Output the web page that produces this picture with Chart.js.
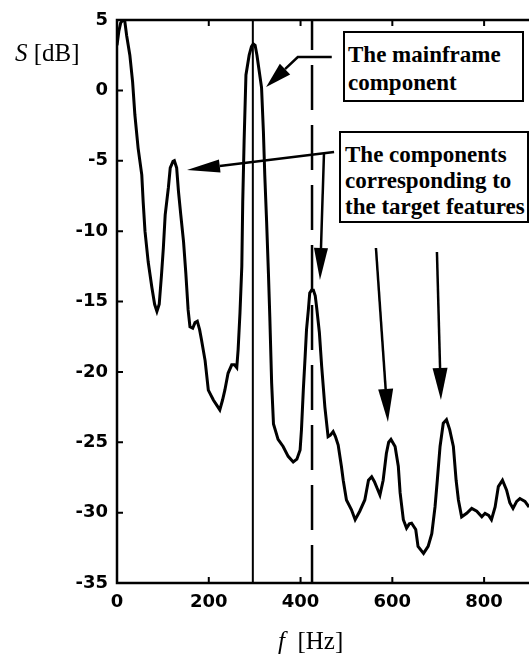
<!DOCTYPE html>
<html>
<head>
<meta charset="utf-8">
<script src="https://cdn.jsdelivr.net/npm/chart.js@4/dist/chart.umd.min.js"></script>
<style>
  html, body { margin: 0; padding: 0; background: #fff; overflow: hidden; }
  #wrap { position: relative; width: 529px; height: 655px; overflow: hidden; }
  #plot { position: absolute; left: 0; top: 0; }
  .note {
    position: absolute; box-sizing: border-box; border: 2px solid #000; background: #fff;
    font: bold 23px "Liberation Serif", "Times New Roman", serif; color: #000; white-space: nowrap;
  }
  .axis-title { position: absolute; font: 25px "Liberation Serif", "Times New Roman", serif; color: #000; white-space: nowrap; line-height: 26px; }
  .axis-title i { font-style: italic; }
</style>
</head>
<body>
<div id="wrap">
  <canvas id="plot" width="540" height="655"></canvas>
  <div class="axis-title" style="left:15px; top:40px;"><i>S</i> [dB]</div>
  <div class="axis-title" style="left:278px; top:628px;"><i>f</i>&nbsp;&nbsp;[Hz]</div>
  <div class="note" style="left:343px; top:31px; width:181px; height:71px; line-height:28px; padding:8px 0 0 3px;">The mainframe<br>component</div>
  <div class="note" style="left:339px; top:131px; width:190px; height:92px; line-height:26px; padding:9px 0 0 4px;">The components<br>corresponding to<br>the target features</div>
</div>
<script>
// Spectrum S(f) in dB
const frequencyHz = [
  0, 4, 8, 13, 17, 21, 28, 34, 39, 46, 54, 57, 61, 68, 76, 82, 87, 92, 97, 101,
  105, 112, 116, 122, 125, 130, 134, 139, 145, 150, 155, 159, 165, 170, 175, 180, 184, 192, 199, 210,
  218, 224, 230, 235, 242, 250, 256, 261, 264, 268, 272, 274, 277, 281, 288, 293, 297, 301, 305, 308,
  315, 319, 322, 326, 330, 333, 337, 341, 351, 362, 373, 384, 392, 399, 402, 406, 410, 413, 417, 420,
  424, 428, 432, 435, 441, 446, 453, 460, 465, 471, 476, 482, 489, 493, 500, 511, 519, 529, 540, 548,
  555, 561, 566, 573, 580, 587, 592, 597, 606, 613, 617, 624, 631, 637, 642, 651, 656, 668, 678, 686,
  693, 698, 704, 711, 718, 725, 733, 739, 744, 751, 762, 773, 784, 795, 802, 810, 816, 824, 831, 840,
  849, 856, 863, 871, 878, 889, 898
];
const levelDb = [
  3.2, 4.2, 4.8, 5.0, 4.9, 3.9, 2.5, 0.6, -1.75, -4.1, -6.0, -7.9, -10.0, -12.2, -14.0, -15.2, -15.7, -15.2, -13.1, -11.2,
  -8.85, -6.9, -5.5, -5.05, -5.0, -5.5, -7.2, -8.85, -10.75, -13.0, -15.6, -16.8, -16.9, -16.5, -16.4, -17.0, -17.7, -19.2, -21.3, -22.0,
  -22.4, -22.7, -22.0, -21.3, -20.1, -19.5, -19.5, -19.7, -18.4, -15.8, -12.5, -7.9, -3.6, 1.1, 2.5, 3.1, 3.3, 3.2, 2.5, 1.8,
  0.2, -2.9, -6.0, -9.3, -13.0, -16.1, -20.8, -23.7, -24.8, -25.3, -26.0, -26.4, -26.2, -25.55, -24.1, -21.3, -18.9, -17.0, -15.6, -14.4,
  -14.2, -14.2, -14.6, -15.4, -17.2, -19.6, -22.5, -24.6, -24.5, -24.25, -24.6, -25.2, -26.7, -27.7, -29.1, -29.8, -30.5, -29.9, -29.1, -27.7,
  -27.45, -27.8, -28.2, -28.75, -27.7, -25.8, -25.0, -24.8, -25.3, -26.7, -28.6, -30.5, -31.1, -30.8, -30.75, -31.2, -32.4, -32.9, -32.4, -31.5,
  -29.6, -27.7, -25.3, -23.65, -23.4, -24.1, -25.3, -27.7, -29.1, -30.3, -30.05, -29.7, -29.9, -30.3, -30.05, -30.2, -30.5, -29.6, -28.15, -27.7,
  -28.4, -29.3, -29.7, -29.2, -29.0, -29.2, -29.6
];

// Marker frequencies: mainframe component (solid) and target feature (dashed)
const mainframeHz = 296;
const featureHz = 425;

// Axis ticks
const xTicks = [0, 200, 400, 600, 800];
const yTicks = [5, 0, -5, -10, -15, -20, -25, -30, -35];
const xRange = [0, 900];
const yRange = [-35, 5];

// Annotation arrows in (Hz, dB): polyline ending at the arrow tip
const arrows = [
  { pts: [[468, 2.37], [394, 2.37], [325, 0.24]], head: 26, width: 15 },
  { pts: [[473, -4.38], [152.5, -5.66]], head: 33, width: 13 },
  { pts: [[451, -4.52], [442.3, -13.47]], head: 32, width: 14 },
  { pts: [[564.3, -11.2], [590.4, -23.56]], head: 33, width: 15 },
  { pts: [[697.2, -11.48], [705.9, -22.0]], head: 32, width: 15 }
];

const tickFont = { family: '"DejaVu Sans", sans-serif', size: 18, weight: 'bold' };

const framePlugin = {
  id: 'frame',
  afterDatasetsDraw(chart) {
    const { ctx, chartArea: a, scales: { x, y } } = chart;
    ctx.save();
    ctx.strokeStyle = '#000';
    ctx.fillStyle = '#000';
    ctx.lineWidth = 2.5;
    ctx.lineCap = 'butt';
    // left, top and bottom box lines
    ctx.beginPath();
    ctx.moveTo(a.right + 5, a.top);
    ctx.lineTo(a.left, a.top);
    ctx.lineTo(a.left, a.bottom);
    ctx.lineTo(a.right + 5, a.bottom);
    ctx.stroke();
    // inward tick marks
    ctx.lineWidth = 2;
    ctx.beginPath();
    yTicks.forEach(v => {
      const py = y.getPixelForValue(v);
      ctx.moveTo(a.left, py); ctx.lineTo(a.left + 6, py);
    });
    xTicks.forEach(v => {
      const px = x.getPixelForValue(v);
      ctx.moveTo(px, a.top); ctx.lineTo(px, a.top + 6);
      ctx.moveTo(px, a.bottom); ctx.lineTo(px, a.bottom - 6);
    });
    ctx.stroke();
    // annotation arrows
    arrows.forEach(ar => {
      const p = ar.pts.map(([f, s]) => [x.getPixelForValue(f), y.getPixelForValue(s)]);
      const tip = p[p.length - 1], prev = p[p.length - 2];
      const dx = tip[0] - prev[0], dy = tip[1] - prev[1];
      const len = Math.hypot(dx, dy), ux = dx / len, uy = dy / len;
      const bx = tip[0] - ux * ar.head, by = tip[1] - uy * ar.head;
      ctx.lineWidth = 2.5;
      ctx.beginPath();
      ctx.moveTo(p[0][0], p[0][1]);
      for (let i = 1; i < p.length - 1; i++) ctx.lineTo(p[i][0], p[i][1]);
      ctx.lineTo(bx, by);
      ctx.stroke();
      ctx.beginPath();
      ctx.moveTo(tip[0], tip[1]);
      ctx.lineTo(bx - uy * ar.width / 2, by + ux * ar.width / 2);
      ctx.lineTo(bx + uy * ar.width / 2, by - ux * ar.width / 2);
      ctx.closePath();
      ctx.fill();
    });
    ctx.restore();
  }
};

new Chart(document.getElementById('plot'), {
  type: 'line',
  data: {
    datasets: [
      {
        data: frequencyHz.map((f, i) => ({ x: f, y: levelDb[i] })),
        borderColor: '#000', borderWidth: 3, pointRadius: 0, tension: 0
      },
      {
        data: [{ x: mainframeHz, y: yRange[1] }, { x: mainframeHz, y: yRange[0] }],
        borderColor: '#000', borderWidth: 2, pointRadius: 0
      },
      {
        data: [{ x: featureHz, y: yRange[1] }, { x: featureHz, y: yRange[0] }],
        borderColor: '#000', borderWidth: 2.5, pointRadius: 0,
        borderDash: [45, 15], borderDashOffset: 15
      }
    ]
  },
  options: {
    responsive: false,
    animation: false,
    events: [],
    layout: { padding: { top: 20, right: 10, left: 0, bottom: 0 } },
    plugins: { legend: { display: false }, tooltip: { enabled: false } },
    scales: {
      x: {
        type: 'linear', min: xRange[0], max: xRange[1],
        afterBuildTicks: s => { s.ticks = xTicks.map(v => ({ value: v })); },
        afterFit: s => { s.height = 72; },
        grid: { display: false, drawTicks: false },
        border: { display: false },
        ticks: { color: '#000', font: tickFont, padding: 9, maxRotation: 0 }
      },
      y: {
        type: 'linear', min: yRange[0], max: yRange[1],
        afterBuildTicks: s => { s.ticks = yTicks.map(v => ({ value: v })); },
        afterFit: s => { s.width = 117; },
        grid: { display: false, drawTicks: false },
        border: { display: false },
        ticks: { color: '#000', font: tickFont, padding: 9 }
      }
    }
  },
  plugins: [framePlugin]
});
</script>
</body>
</html>
